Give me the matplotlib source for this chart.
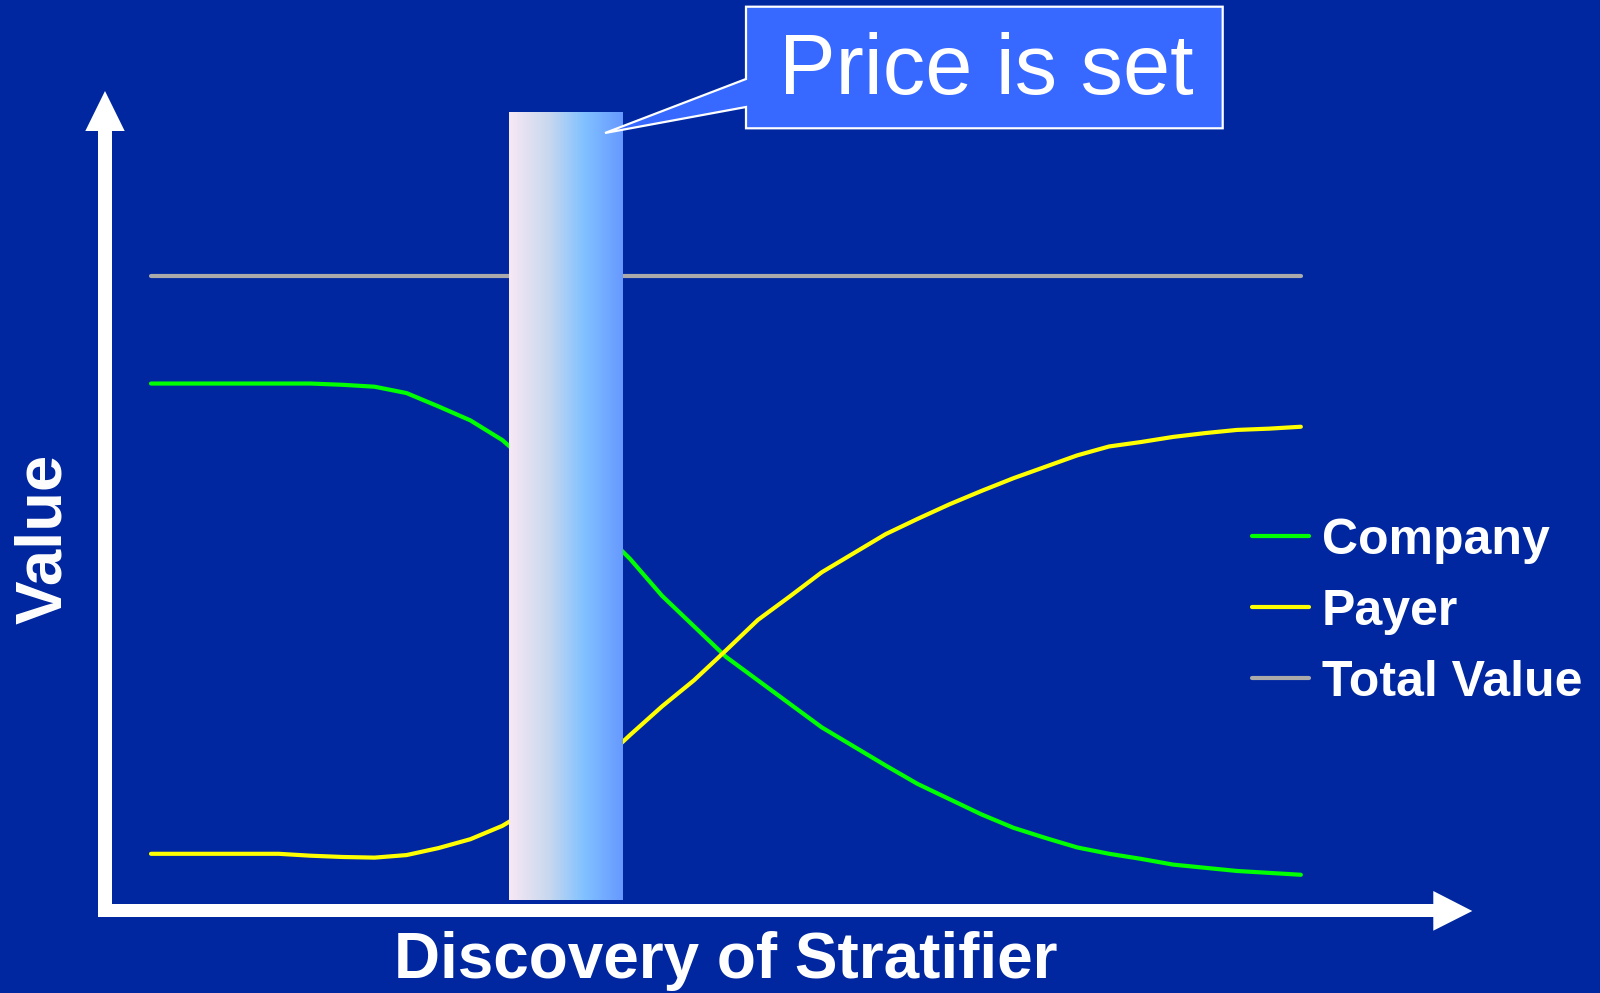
import numpy as np
import matplotlib
matplotlib.use("Agg")
import matplotlib.pyplot as plt
import matplotlib.transforms as mtransforms
from matplotlib.patches import Polygon
from matplotlib.lines import Line2D
from matplotlib.colors import LinearSegmentedColormap

plt.rcParams['font.family'] = ['Liberation Sans', 'DejaVu Sans']

# --- data (arbitrary value units, total value = 100) ---
steps = np.arange(37)
company = [83.0, 83.0, 83.0, 83.0, 83.0, 83.0, 82.8, 82.5, 81.5, 79.4,
           77.2, 74.1, 69.7, 65.0, 60.4, 55.4, 49.6, 44.8, 40.0, 36.3,
           32.6, 28.9, 25.9, 22.9, 20.0, 17.6, 15.2, 13.1, 11.5, 10.0,
           9.0, 8.2, 7.3, 6.8, 6.3, 6.0, 5.7]
payer = [9.0, 9.0, 9.0, 9.0, 9.0, 8.7, 8.5, 8.4, 8.8, 9.9,
         11.3, 13.4, 16.4, 19.4, 23.0, 27.7, 32.2, 36.3, 41.0, 45.8,
         49.5, 53.3, 56.3, 59.3, 61.7, 64.0, 66.1, 68.1, 69.9, 71.7,
         73.1, 73.8, 74.6, 75.2, 75.7, 75.9, 76.2]
total_value = [100.0] * 37
series_names = ['Company', 'Payer', 'Total Value']
series_colors = ['#00FF00', '#FFFF00', '#AAAAAA']

# step range where the price gets fixed
price_set_start, price_set_end = 11.2, 14.75

BG = '#0027A0'
W, H = 1600, 993

fig = plt.figure(figsize=(W / 100, H / 100), dpi=100, facecolor=BG)
ax = fig.add_axes([0, 0, 1, 1])
ax.set_facecolor(BG)
ax.axis('off')

# pixel transform for the slide decorations (origin top-left)
px = mtransforms.Affine2D().scale(1 / W, -1 / H).translate(0, 1) + fig.transFigure

# series
for vals, name, col in zip([company, payer, total_value], series_names, series_colors):
    ax.plot(steps, vals, color=col, lw=3, solid_capstyle='round', solid_joinstyle='round', zorder=2)

# "price is set" bar with horizontal gradient
grad = LinearSegmentedColormap.from_list('bar', [(0, '#F8E8F5'), (0.35, '#C8D8EE'),
                                                  (0.65, '#82C2FF'), (1, '#6699FF')])
ax.imshow(np.linspace(0, 1, 256)[None, :], cmap=grad, aspect='auto',
          extent=[price_set_start, price_set_end, 1.73, 125.6], zorder=3)
ax.set_xlim(-151 / 31.94, (W - 151) / 31.94)
ax.set_ylim((911 - H) / 6.355, 911 / 6.355)

# axis arrows
white = dict(facecolor='white', edgecolor='none', transform=px, zorder=4)
ax.add_patch(Polygon([(98.3, 130), (111.7, 130), (111.7, 917.3), (98.3, 917.3)], **white))
ax.add_patch(Polygon([(85.3, 131), (124.7, 131), (105, 91)], **white))
ax.add_patch(Polygon([(98.3, 904.3), (1434, 904.3), (1434, 917.3), (98.3, 917.3)], **white))
ax.add_patch(Polygon([(1433.3, 891), (1433.3, 930.7), (1472.3, 911)], **white))

# callout
ax.add_patch(Polygon([(746, 6.7), (1222.7, 6.7), (1222.7, 128.3), (746, 128.3),
                      (746, 107), (605, 133), (746, 79)],
                     closed=True, facecolor='#3768FF', edgecolor='white', lw=1.6,
                     transform=px, zorder=5))
ax.text(986, 72, 'Price is set', transform=px, color='white', fontsize=61,
        ha='center', va='center', zorder=6)

# axis labels
ax.text(726, 961, 'Discovery of Stratifier', transform=px, color='white', fontsize=46,
        fontweight='bold', ha='center', va='center')
ax.text(44, 539, 'Value', transform=px, color='white', fontsize=47,
        fontweight='bold', ha='center', va='center', rotation=90)

# legend
for i, (name, col) in enumerate(zip(series_names, series_colors)):
    y = 536 + i * 71.2
    ax.add_line(Line2D([1252, 1309], [y, y], color=col, lw=3, solid_capstyle='round',
                       transform=px))
    ax.text(1322, y + 17.5, name, transform=px, color='white', fontsize=36,
            fontweight='bold', ha='left', va='baseline')

fig.savefig('out.png', dpi=100, facecolor=BG)
